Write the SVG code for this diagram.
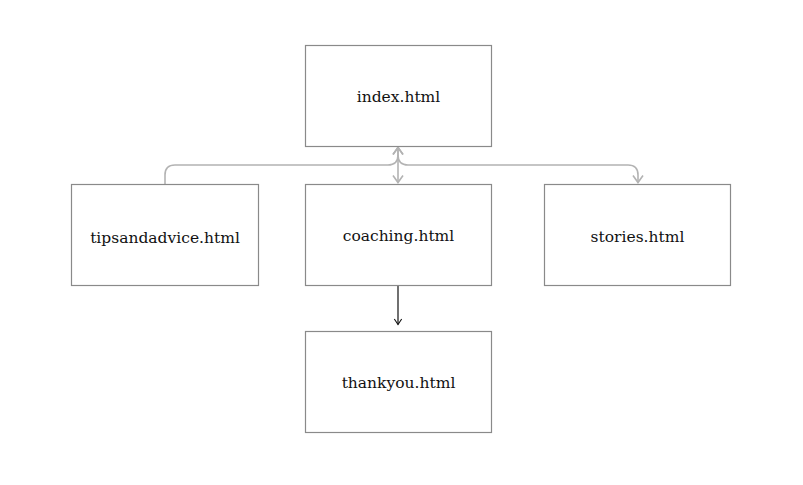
<svg xmlns="http://www.w3.org/2000/svg" width="803" height="485" viewBox="0 0 803 485">
<style>
.box{fill:#fff;stroke:#8a8a8a;stroke-width:1.2}
.lbl{font-family:"DejaVu Serif","Liberation Serif",serif;font-size:15.5px;fill:#111;text-anchor:middle}
.g{fill:none;stroke:#b3b3b3;stroke-width:1.6}
.k{fill:none;stroke:#111;stroke-width:1.2}
</style>
<defs>
<marker id="ag" viewBox="0 0 12 12" refX="10" refY="6" markerWidth="12" markerHeight="12" markerUnits="userSpaceOnUse" orient="auto-start-reverse">
<path d="M3,1 L10,6 L3,11" fill="none" stroke="#b3b3b3" stroke-width="1.6"/>
</marker>
<marker id="ak" viewBox="0 0 12 12" refX="10" refY="6" markerWidth="11" markerHeight="11" markerUnits="userSpaceOnUse" orient="auto">
<path d="M4,2 L10,6 L4,10" fill="none" stroke="#111" stroke-width="1.2"/>
</marker>
</defs>
<rect width="803" height="485" fill="#fff"/>
<g id="connectors">
<path class="g" d="M398,147.5 L398,182.5" marker-start="url(#ag)" marker-end="url(#ag)"/>
<path class="g" d="M165,184 L165,175 Q165,165 175,165 L388,165 Q398,165 398,155 L398,147.5" marker-end="url(#ag)"/>
<path class="g" d="M398,155 Q398,165 408,165 L628,165 Q638,165 638,175 L638,182.5" marker-end="url(#ag)"/>
<path class="k" d="M398,286 L398,324.5" marker-end="url(#ak)"/>
</g>
<g id="index"><rect class="box" x="305.5" y="45.5" width="186" height="101"/><text class="lbl" x="398.5" y="102">index.html</text></g>
<g id="tipsandadvice"><rect class="box" x="71.5" y="184.5" width="187" height="101"/><text class="lbl" x="165" y="243">tipsandadvice.html</text></g>
<g id="coaching"><rect class="box" x="305.5" y="184.5" width="186" height="101"/><text class="lbl" x="398.5" y="241">coaching.html</text></g>
<g id="stories"><rect class="box" x="544.5" y="184.5" width="186" height="101"/><text class="lbl" x="637.5" y="242">stories.html</text></g>
<g id="thankyou"><rect class="box" x="305.5" y="331.5" width="186" height="101"/><text class="lbl" x="398.5" y="388">thankyou.html</text></g>
</svg>
